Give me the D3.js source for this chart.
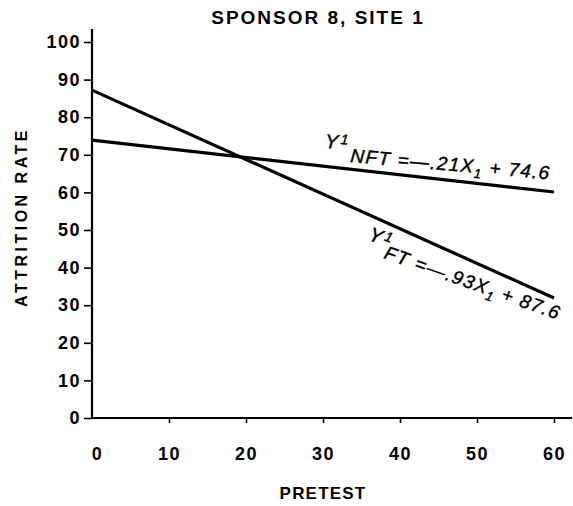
<!DOCTYPE html>
<html>
<head>
<meta charset="utf-8">
<script src="https://cdn.jsdelivr.net/npm/d3@7"></script>
<style>
  body { margin: 0; background: #fff; }
  svg { font-family: "Liberation Sans", Arial, sans-serif; }
</style>
</head>
<body>
<svg width="573" height="506"></svg>
<script>
// data
var pretest = [0, 60];
var nftRate = [73.9, 60.1];   // Y1 NFT = -.21X1 + 74.6
var ftRate = [87.2, 31.9];    // Y1 FT = -.93X1 + 87.6
var xTicks = [0, 10, 20, 30, 40, 50, 60];
var yTicks = [0, 10, 20, 30, 40, 50, 60, 70, 80, 90, 100];

var svg = d3.select("svg");

var xScale = d3.scaleLinear().domain([0, 60]).range([92, 554]);
var yScale = d3.scaleLinear().domain([0, 100]).range([418, 42]);

// title
svg.append("text")
    .text("SPONSOR 8, SITE 1")
    .attr("x", 318).attr("y", 24)
    .attr("text-anchor", "middle")
    .style("font-size", "19px").style("font-weight", "bold")
    .style("letter-spacing", "2px");

// y axis
var yAxis = svg.append("g")
    .attr("transform", "translate(" + xScale(0) + ",0)")
    .call(d3.axisLeft(yScale).tickValues(yTicks).tickSize(8).tickPadding(3));
yAxis.select(".domain").attr("d", "M0," + 29 + "V" + yScale(0));

// x axis
var xAxis = svg.append("g")
    .attr("transform", "translate(0," + yScale(0) + ")")
    .call(d3.axisBottom(xScale).tickValues(xTicks).tickSize(5).tickPadding(24));
xAxis.select(".domain").attr("d", "M" + xScale(0) + ",0H572");
xAxis.selectAll(".tick").filter(function(d) { return d === 0; }).select("line").remove();
xAxis.selectAll(".tick text").attr("dx", function(d) { return d === 0 ? 5 : 0; });

svg.selectAll(".domain").attr("stroke", "#000").attr("stroke-width", 2.2);
svg.selectAll(".tick line").attr("stroke", "#000").attr("stroke-width", 1.6);
svg.selectAll(".tick text")
    .attr("fill", "#000")
    .style("font-size", "18px").style("font-weight", "bold")
    .style("letter-spacing", "1.5px")
    .style("font-family", "'Liberation Sans', Arial, sans-serif");

// axis labels
svg.append("text")
    .text("ATTRITION RATE")
    .attr("transform", "translate(27,217) rotate(-90)")
    .attr("text-anchor", "middle")
    .style("font-size", "16px").style("font-weight", "bold")
    .style("letter-spacing", "3.5px");

svg.append("text")
    .text("PRETEST")
    .attr("x", 323).attr("y", 499)
    .attr("text-anchor", "middle")
    .style("font-size", "17px").style("font-weight", "bold")
    .style("letter-spacing", "1.2px");

// regression lines
var line = d3.line()
    .x(function(d) { return xScale(d[0]); })
    .y(function(d) { return yScale(d[1]); });

[nftRate, ftRate].forEach(function(r) {
    svg.append("path")
        .datum(d3.zip(pretest, r))
        .attr("d", line)
        .attr("fill", "none")
        .attr("stroke", "#000")
        .attr("stroke-width", 3.2);
});

// equation labels, placed at the start of the subscript baseline
function equation(x, y, angle, yOff, sub, slope, icept) {
    var t = svg.append("text")
        .attr("transform", "translate(" + x + "," + y + ") rotate(" + angle + ")")
        .style("font-size", "19px").style("font-style", "italic")
        .style("stroke", "#000").style("stroke-width", 0.4)
        .style("letter-spacing", "1.3px");
    t.append("tspan").text("Y").attr("x", -yOff).attr("y", -12).style("font-size", "20px");
    t.append("tspan").text("1").attr("dx", 1).attr("dy", -5).style("font-size", "14px");
    t.append("tspan").text(sub).attr("x", 0).attr("y", 0);
    t.append("tspan").text(" =\u2014" + slope + "X");
    t.append("tspan").text("1").attr("dy", 5).style("font-size", "13px");
    t.append("tspan").text(" + " + icept).attr("dy", -5);
}

equation(350, 162, 5, 27, "NFT", ".21", "74.6");
equation(383, 258, 19.5, 21, "FT", ".93", "87.6");
</script>
</body>
</html>
